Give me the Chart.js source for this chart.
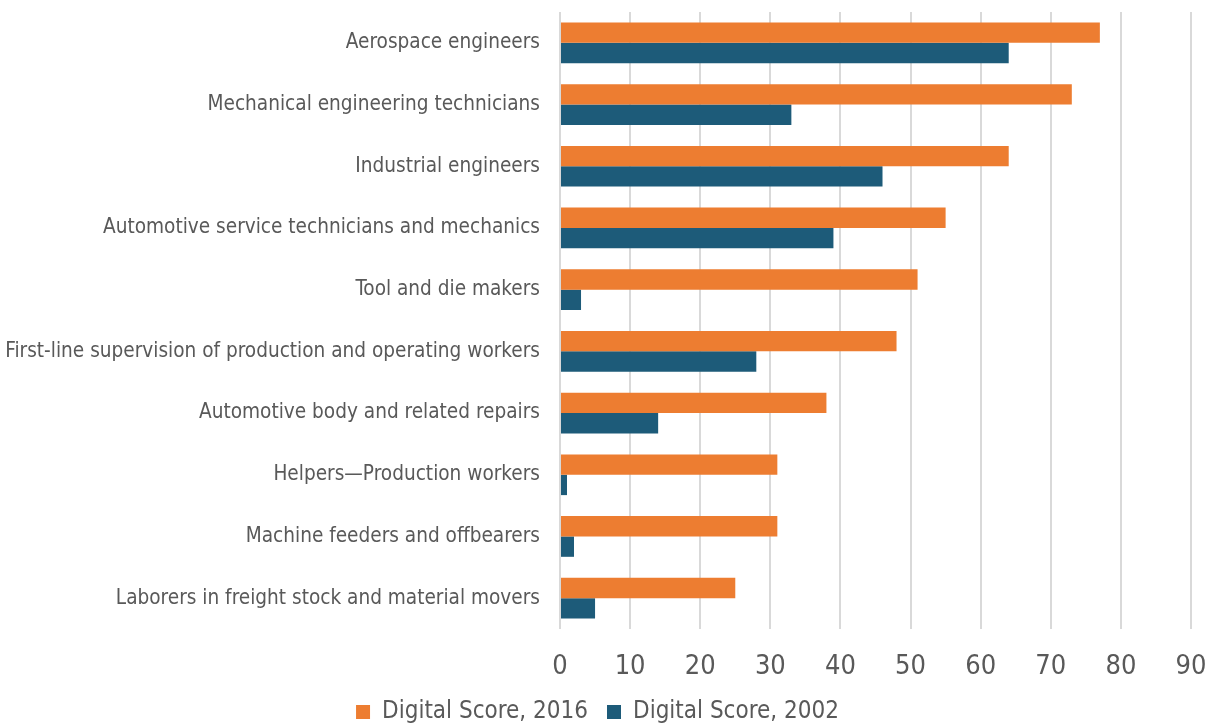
<!DOCTYPE html>
<html>
<head>
<meta charset="utf-8">
<script src="https://cdn.jsdelivr.net/npm/chart.js@4.4.0/dist/chart.umd.min.js"></script>
<style>
  html, body { margin: 0; padding: 0; background: #fff; }
  #wrap { width: 1214px; height: 725px; position: relative; }
</style>
</head>
<body>
<div id="wrap"><canvas id="digital_scores"></canvas></div>
<script>
var occupations = [
    "Aerospace engineers",
    "Mechanical engineering technicians",
    "Industrial engineers",
    "Automotive service technicians and mechanics",
    "Tool and die makers",
    "First-line supervision of production and operating workers",
    "Automotive body and related repairs",
    "Helpers\u2014Production workers",
    "Machine feeders and offbearers",
    "Laborers in freight stock and material movers"
];
var score2016 = [77, 73, 64, 55, 51, 48, 38, 31, 31, 25];
var score2002 = [64, 33, 46, 39, 3, 28, 14, 1, 2, 5];

var fontFamily = "'Liberation Sans Narrow', 'DejaVu Sans Condensed', 'Liberation Sans', sans-serif";
var textColor = "#595959";

var chart = new Chart(document.getElementById("digital_scores"), {
    "type": "bar",
    "data": {
        "labels": occupations,
        "datasets": [
            {
                "label": "Digital Score, 2016",
                "data": score2016,
                "backgroundColor": "#ED7D31",
                "categoryPercentage": 0.66,
                "barPercentage": 1.0
            },
            {
                "label": "Digital Score, 2002",
                "data": score2002,
                "backgroundColor": "#1D5B79",
                "categoryPercentage": 0.66,
                "barPercentage": 1.0
            }
        ]
    },
    "options": {
        "indexAxis": "y",
        "responsive": true,
        "maintainAspectRatio": false,
        "animation": false,
        "layout": { "padding": { "top": 12, "right": 23, "left": 4, "bottom": -9 } },
        "scales": {
            "x": {
                "min": 0,
                "max": 90,
                "ticks": { "stepSize": 10, "color": textColor, "font": { "family": fontFamily, "size": 27 }, "padding": 22 },
                "grid": { "color": "#D9D9D9", "lineWidth": 2, "drawTicks": false },
                "border": { "display": false },
                "afterFit": function(scale) {
                    scale.paddingLeft = 0;
                    scale.paddingRight = 0;
                    scale.height = 52;
                }
            },
            "y": {
                "ticks": { "color": textColor, "font": { "family": fontFamily, "size": 20.6 }, "padding": 20 },
                "grid": { "display": false, "drawTicks": false },
                "border": { "display": false },
                "afterFit": function(scale) {
                    scale.paddingTop = 0;
                    scale.paddingBottom = 0;
                    scale.width = 556;
                }
            }
        },
        "plugins": {
            "legend": {
                "position": "bottom",
                "labels": {
                    "color": textColor,
                    "font": { "family": fontFamily, "size": 24 },
                    "boxWidth": 14,
                    "boxHeight": 14,
                    "padding": 19
                }
            },
            "tooltip": { "enabled": false }
        }
    }
});
</script>
</body>
</html>
